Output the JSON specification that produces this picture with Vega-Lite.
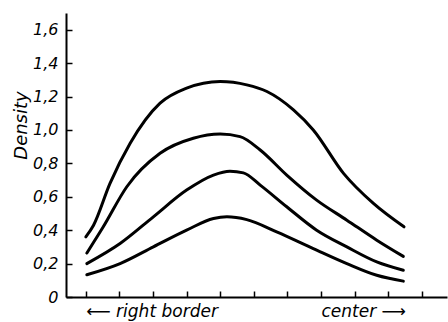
{
  "$schema": "https://vega.github.io/schema/vega-lite/v6.json",
  "width": 381,
  "height": 284,
  "autosize": {"type": "none"},
  "padding": {"left": 66, "top": 13, "right": 1, "bottom": 25},
  "background": "white",
  "config": {"view": {"stroke": null}, "font": "DejaVu Sans"},
  "data": {"values": [
    {"s": "a", "x": 0.0, "y": 0.36}, {"s": "a", "x": 0.23, "y": 0.43}, {"s": "a", "x": 0.72, "y": 0.68}, {"s": "a", "x": 1.32, "y": 0.92}, {"s": "a", "x": 2.21, "y": 1.16}, {"s": "a", "x": 3.0, "y": 1.25}, {"s": "a", "x": 4.0, "y": 1.29}, {"s": "a", "x": 4.79, "y": 1.27}, {"s": "a", "x": 5.39, "y": 1.23}, {"s": "a", "x": 6.18, "y": 1.12}, {"s": "a", "x": 6.77, "y": 1.0}, {"s": "a", "x": 7.67, "y": 0.74}, {"s": "a", "x": 8.56, "y": 0.56}, {"s": "a", "x": 9.47, "y": 0.42},
    {"s": "b", "x": 0.03, "y": 0.263}, {"s": "b", "x": 0.52, "y": 0.42}, {"s": "b", "x": 1.22, "y": 0.66}, {"s": "b", "x": 2.21, "y": 0.86}, {"s": "b", "x": 3.2, "y": 0.95}, {"s": "b", "x": 4.0, "y": 0.975}, {"s": "b", "x": 4.59, "y": 0.96}, {"s": "b", "x": 5.19, "y": 0.88}, {"s": "b", "x": 5.98, "y": 0.73}, {"s": "b", "x": 6.87, "y": 0.58}, {"s": "b", "x": 7.77, "y": 0.46}, {"s": "b", "x": 8.66, "y": 0.34}, {"s": "b", "x": 9.45, "y": 0.243},
    {"s": "c", "x": 0.03, "y": 0.2}, {"s": "c", "x": 1.02, "y": 0.32}, {"s": "c", "x": 2.01, "y": 0.48}, {"s": "c", "x": 3.0, "y": 0.64}, {"s": "c", "x": 3.8, "y": 0.73}, {"s": "c", "x": 4.29, "y": 0.753}, {"s": "c", "x": 4.69, "y": 0.743}, {"s": "c", "x": 5.19, "y": 0.67}, {"s": "c", "x": 5.98, "y": 0.54}, {"s": "c", "x": 6.87, "y": 0.4}, {"s": "c", "x": 7.77, "y": 0.3}, {"s": "c", "x": 8.66, "y": 0.21}, {"s": "c", "x": 9.45, "y": 0.16},
    {"s": "d", "x": 0.03, "y": 0.133}, {"s": "d", "x": 1.02, "y": 0.2}, {"s": "d", "x": 2.01, "y": 0.3}, {"s": "d", "x": 3.0, "y": 0.4}, {"s": "d", "x": 3.8, "y": 0.47}, {"s": "d", "x": 4.2, "y": 0.48}, {"s": "d", "x": 4.79, "y": 0.463}, {"s": "d", "x": 5.68, "y": 0.39}, {"s": "d", "x": 6.77, "y": 0.29}, {"s": "d", "x": 7.77, "y": 0.2}, {"s": "d", "x": 8.66, "y": 0.13}, {"s": "d", "x": 9.45, "y": 0.095}
  ]},
  "mark": {"type": "line", "interpolate": "monotone", "color": "black", "strokeWidth": 3, "strokeCap": "round"},
  "encoding": {
    "x": {"field": "x", "type": "quantitative",
      "scale": {"domain": [-0.59, 10.75], "nice": false, "zero": false},
      "axis": {"title": null, "grid": false, "values": [0,1,2,3,4,5,6,7,8,9,10],
        "labelExpr": "datum.value == 0 ? '⟵ right  border' : datum.value == 7 ? 'center ⟶' : ''",
        "labelAlign": "left", "labelFontStyle": "italic", "labelFontSize": 17, "labelColor": "black",
        "labelPadding": 12, "labelOverlap": false,
        "tickSize": -6, "tickColor": "black", "tickWidth": 1.5,
        "domainColor": "black", "domainWidth": 2}},
    "y": {"field": "y", "type": "quantitative",
      "scale": {"domain": [0, 1.7], "nice": false},
      "axis": {"title": "Density", "grid": false, "values": [0,0.2,0.4,0.6,0.8,1.0,1.2,1.4,1.6],
        "labelExpr": "datum.value == 0 ? '0' : replace(format(datum.value, '.1f'), '.', ',')",
        "labelFontStyle": "italic", "labelFontSize": 16, "labelColor": "black", "labelPadding": 14,
        "tickSize": -6, "tickColor": "black", "tickWidth": 1.5,
        "domainColor": "black", "domainWidth": 2,
        "titleFontStyle": "italic", "titleFontWeight": "normal", "titleFontSize": 18, "titleColor": "black",
        "titleAngle": -90, "titleX": -45, "titleY": 112, "titleBaseline": "middle", "titleAlign": "center"}},
    "detail": {"field": "s"}
  }
}
